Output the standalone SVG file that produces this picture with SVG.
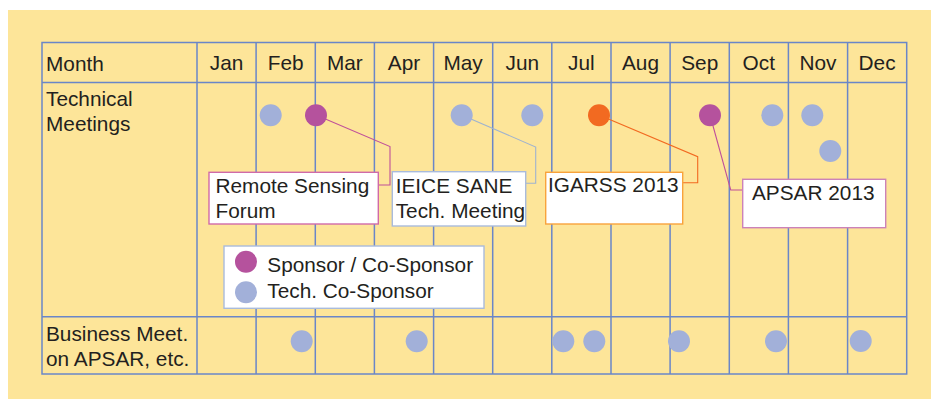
<svg xmlns="http://www.w3.org/2000/svg" width="931" height="399" viewBox="0 0 931 399">
<style>
text{font-family:"Liberation Sans",Arial,sans-serif;font-size:20.8px;fill:#231f20}
.hdr{text-anchor:middle}
.grid{stroke:#6a86c8;stroke-width:1.5;fill:none}
.blue{fill:#a2b0d9}
.purple{fill:#b5529d}
.orange{fill:#f26a21}
.box{fill:#fff;stroke-width:1.4}
.lead{fill:none;stroke-width:1.1}
</style>
<rect x="8" y="10" width="923" height="389" fill="#fde599"/>
<g id="grid">
<rect class="grid" x="42" y="42.5" width="864.7" height="331.5"/>
<line class="grid" x1="42" y1="82.5" x2="906.7" y2="82.5"/>
<line class="grid" x1="42" y1="316.7" x2="906.7" y2="316.7"/>
<path class="grid" d="M197,42.5V374M256.1,42.5V374M315.3,42.5V374M374.4,42.5V374M433.6,42.5V374M492.7,42.5V374M551.8,42.5V374M611,42.5V374M670.1,42.5V374M729.3,42.5V374M788.4,42.5V374M847.6,42.5V374"/>
</g>
<g id="headers">
<text x="46" y="71">Month</text>
<text class="hdr" x="226.6" y="70">Jan</text>
<text class="hdr" x="285.7" y="70">Feb</text>
<text class="hdr" x="344.8" y="70">Mar</text>
<text class="hdr" x="404" y="70">Apr</text>
<text class="hdr" x="463.1" y="70">May</text>
<text class="hdr" x="522.3" y="70">Jun</text>
<text class="hdr" x="581.4" y="70">Jul</text>
<text class="hdr" x="640.5" y="70">Aug</text>
<text class="hdr" x="699.7" y="70">Sep</text>
<text class="hdr" x="758.8" y="70">Oct</text>
<text class="hdr" x="818" y="70">Nov</text>
<text class="hdr" x="877.1" y="70">Dec</text>
<text x="46" y="106">Technical</text>
<text x="46" y="131">Meetings</text>
<text x="46" y="341">Business Meet.</text>
<text x="46" y="366">on APSAR, etc.</text>
</g>
<g id="connectors">
<polyline class="lead" stroke="#c0509a" points="316,115 390,146.5 390,185 378.3,185"/>
<polyline class="lead" stroke="#9fb3cf" points="461.7,115 535.7,147 535.7,183.3 525.7,183.3"/>
<polyline class="lead" stroke="#f26a21" points="599,115 697.7,156.7 697.7,182.7 682.7,182.7"/>
<polyline class="lead" stroke="#c0509a" points="710,115 730.7,190 742.7,190"/>
</g>
<g id="tech-dots">
<circle class="blue" cx="270.7" cy="115.3" r="11"/>
<circle class="purple" cx="316" cy="115.3" r="11"/>
<circle class="blue" cx="461.7" cy="115.3" r="11"/>
<circle class="blue" cx="532.3" cy="115.3" r="11"/>
<circle class="orange" cx="599" cy="115.3" r="11"/>
<circle class="purple" cx="710" cy="115.3" r="11"/>
<circle class="blue" cx="772.3" cy="115.3" r="11"/>
<circle class="blue" cx="812.3" cy="115.3" r="11"/>
<circle class="blue" cx="830.3" cy="151" r="11"/>
</g>
<g id="business-dots">
<circle class="blue" cx="301.7" cy="341.3" r="11"/>
<circle class="blue" cx="416.7" cy="341.3" r="11"/>
<circle class="blue" cx="563.3" cy="341.3" r="11"/>
<circle class="blue" cx="594.3" cy="341.3" r="11"/>
<circle class="blue" cx="679" cy="341.3" r="11"/>
<circle class="blue" cx="776" cy="341.3" r="11"/>
<circle class="blue" cx="860.7" cy="341" r="11"/>
</g>
<g id="remote-sensing-forum">
<rect class="box" stroke="#d06aa8" x="209" y="172.3" width="169.3" height="51.7"/>
<text x="215.5" y="192.5">Remote Sensing</text>
<text x="215.5" y="217.5">Forum</text>
</g>
<g id="ieice-sane">
<rect class="box" stroke="#a9bbdc" x="392.3" y="171.7" width="133.4" height="54.3"/>
<text x="395.7" y="193.3">IEICE SANE</text>
<text x="395.7" y="217.7">Tech. Meeting</text>
</g>
<g id="igarss-2013">
<rect class="box" stroke="#f8a33c" x="545.7" y="172.3" width="137" height="51.7"/>
<text x="548" y="191.7">IGARSS 2013</text>
</g>
<g id="apsar-2013">
<rect class="box" stroke="#cc82b8" x="742.7" y="179.3" width="143" height="48.4"/>
<text x="752" y="200">APSAR 2013</text>
</g>
<g id="legend">
<rect class="box" stroke="#a9bbdc" x="224" y="246" width="260" height="62.3"/>
<circle class="purple" cx="246" cy="261.7" r="11"/>
<circle class="blue" cx="246" cy="292.3" r="11"/>
<text x="267.3" y="271.7">Sponsor / Co-Sponsor</text>
<text x="267.3" y="298.3">Tech. Co-Sponsor</text>
</g>
</svg>
